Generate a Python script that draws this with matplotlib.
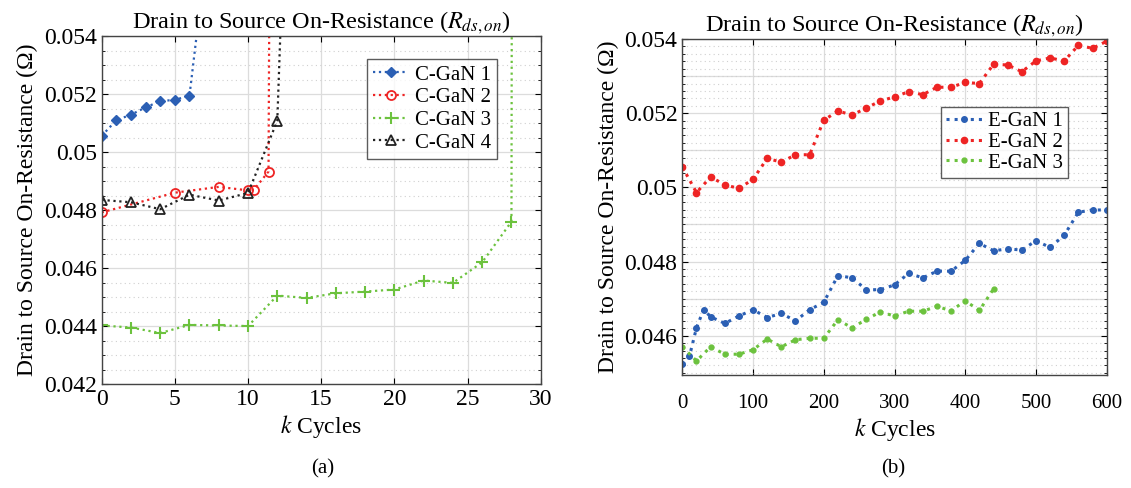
import numpy as np
import matplotlib
matplotlib.use('Agg')
import matplotlib.pyplot as plt
from matplotlib.ticker import MultipleLocator, FuncFormatter

plt.rcParams['font.family'] = ['Liberation Serif', 'DejaVu Serif']
plt.rcParams['mathtext.fontset'] = 'stix'

# (a) C-GaN devices, k cycles vs Rds,on (last point of each run leaves the chart)
cgan1_k = [0, 1, 2, 3, 4, 5, 6, 7]
cgan1_r = [0.05056, 0.0511, 0.05129, 0.05154, 0.05176, 0.0518, 0.05195, 0.0562]
cgan2_k = [0, 5, 8, 10, 10.4, 11.4, 11.5]
cgan2_r = [0.04792, 0.0486, 0.0488, 0.04868, 0.0487, 0.04933, 0.060]
cgan3_k = [0, 2, 4, 6, 8, 10, 12, 14, 16, 18, 20, 22, 24, 26, 28, 28.05]
cgan3_r = [0.04402, 0.04395, 0.04376, 0.04404, 0.04402, 0.044, 0.04505, 0.04497,
           0.04513, 0.04519, 0.04526, 0.04557, 0.04549, 0.0462, 0.0476, 0.065]
cgan4_k = [0, 2, 4, 6, 8, 10, 12, 12.5]
cgan4_r = [0.04835, 0.04827, 0.04803, 0.04853, 0.04833, 0.04859, 0.05108, 0.0583]

# (b) E-GaN devices
egan1_k = [0, 10, 20, 30, 40] + list(range(60, 601, 20))
egan1_r = [0.04523, 0.04544, 0.04621, 0.0467, 0.04651, 0.04633, 0.04653, 0.0467,
           0.04649, 0.0466, 0.0464, 0.0467, 0.0469, 0.04762, 0.04756, 0.04724,
           0.04724, 0.04737, 0.04768, 0.04756, 0.04774, 0.04774, 0.04803, 0.04849,
           0.04829, 0.04834, 0.04831, 0.04856, 0.04838, 0.04871, 0.04933, 0.04939,
           0.04939]
egan2_k = list(range(0, 601, 20))
egan2_r = [0.05055, 0.04986, 0.05028, 0.05007, 0.04997, 0.05022, 0.05078, 0.05068,
           0.05088, 0.05088, 0.05181, 0.05206, 0.05195, 0.05214, 0.05233, 0.05244,
           0.05258, 0.0525, 0.0527, 0.0527, 0.05283, 0.0528, 0.05332, 0.0533,
           0.05312, 0.05341, 0.05349, 0.05341, 0.05383, 0.05375, 0.05394]
egan3_k = list(range(0, 441, 20))
egan3_r = [0.0457, 0.04532, 0.0457, 0.0455, 0.0455, 0.04562, 0.04591, 0.0457,
           0.04589, 0.04593, 0.04593, 0.04643, 0.04621, 0.04644, 0.04664, 0.04653,
           0.04666, 0.04666, 0.04679, 0.04667, 0.04694, 0.04668, 0.04726]

blue = '#2b5fb4'
red = '#ee2424'
green = '#6cc23e'
black = '#222222'

title = r'Drain to Source On-Resistance ($R_{ds,on}$)'
ylab = 'Drain to Source On-Resistance (Ω)'
fmt = FuncFormatter(lambda v, p: '%g' % round(v, 4))

fig = plt.figure(figsize=(11.31, 4.88), dpi=100)
ax1 = fig.add_axes([0.0899, 0.213, 0.3882, 0.713])
ax2 = fig.add_axes([0.6033, 0.2316, 0.3752, 0.6884])


def style_axes(ax):
    ax.tick_params(direction='in', which='both', top=True, right=True,
                   labelsize=17, length=4)
    ax.tick_params(which='minor', length=2.5)
    ax.grid(which='major', color='#dcdcdc', linestyle='-', linewidth=0.9)
    ax.grid(which='minor', axis='y', color='#d0d0d0', linestyle=(0, (1, 3)),
            linewidth=0.8)
    ax.yaxis.set_major_formatter(fmt)
    ax.set_axisbelow(True)
    for s in ax.spines.values():
        s.set_color('#444444')
        s.set_linewidth(1.0)
    ax.set_title(title, fontsize=17.5, pad=4)
    ax.set_ylabel(ylab, fontsize=17, labelpad=4)


# ---- (a)
ax1.plot(cgan1_k, cgan1_r, ':', color=blue, lw=1.6, marker='D', ms=5,
         mfc=blue, mec=blue, label='C-GaN 1')
ax1.plot(cgan2_k, cgan2_r, ':', color=red, lw=1.6, marker='o', ms=6.5,
         mfc='none', mec=red, mew=1.3, label='C-GaN 2')
ax1.plot(cgan3_k, cgan3_r, ':', color=green, lw=1.6, marker='+', ms=8,
         mew=1.5, label='C-GaN 3')
ax1.plot(cgan4_k, cgan4_r, ':', color=black, lw=1.6, marker='^', ms=6.5,
         mfc='none', mec=black, mew=1.3, label='C-GaN 4')
ax1.set_xlim(0, 30)
ax1.set_ylim(0.042, 0.054)
ax1.xaxis.set_major_locator(MultipleLocator(5))
ax1.yaxis.set_major_locator(MultipleLocator(0.002))
ax1.yaxis.set_minor_locator(MultipleLocator(0.0005))
style_axes(ax1)
ax1.set_xlabel(r'$k$ Cycles', fontsize=17, labelpad=2)
leg1 = ax1.legend(loc='upper left', bbox_to_anchor=(0.58, 0.965), fontsize=15,
                  frameon=True, fancybox=False, edgecolor='#333333',
                  handlelength=1.7, handletextpad=0.3, labelspacing=0.15,
                  borderpad=0.3)
leg1.get_frame().set_linewidth(1.0)

# ---- (b)
ax2.plot(egan1_k, egan1_r, ':', color=blue, lw=2.2, marker='o', ms=4,
         mfc=blue, mec=blue, label='E-GaN 1')
ax2.plot(egan2_k, egan2_r, ':', color=red, lw=2.2, marker='o', ms=4.5,
         mfc=red, mec=red, label='E-GaN 2')
ax2.plot(egan3_k, egan3_r, ':', color=green, lw=2.2, marker='o', ms=3.5,
         mfc=green, mec=green, label='E-GaN 3')
ax2.set_xlim(0, 600)
ax2.set_ylim(0.04494, 0.054)
ax2.xaxis.set_major_locator(MultipleLocator(100))
ax2.yaxis.set_major_locator(MultipleLocator(0.002))
ax2.yaxis.set_minor_locator(MultipleLocator(0.0002))
style_axes(ax2)
for yv in np.arange(0.047, 0.0535, 0.002):
    ax2.axhline(yv, color='#dcdcdc', lw=0.9, zorder=0.5)
ax2.tick_params(axis='x', labelsize=15, pad=14)
ax2.set_xlabel(r'$k$ Cycles', fontsize=17, labelpad=2)
leg2 = ax2.legend(loc='upper left', bbox_to_anchor=(0.585, 0.83), fontsize=15,
                  frameon=True, fancybox=False, edgecolor='#333333',
                  handlelength=1.7, handletextpad=0.3, labelspacing=0.05,
                  borderpad=0.25)
leg2.get_frame().set_linewidth(1.0)

fig.text(0.285, 0.03, '(a)', fontsize=15, ha='center')
fig.text(0.79, 0.03, '(b)', fontsize=15, ha='center')

fig.savefig('out.png', dpi=100)
